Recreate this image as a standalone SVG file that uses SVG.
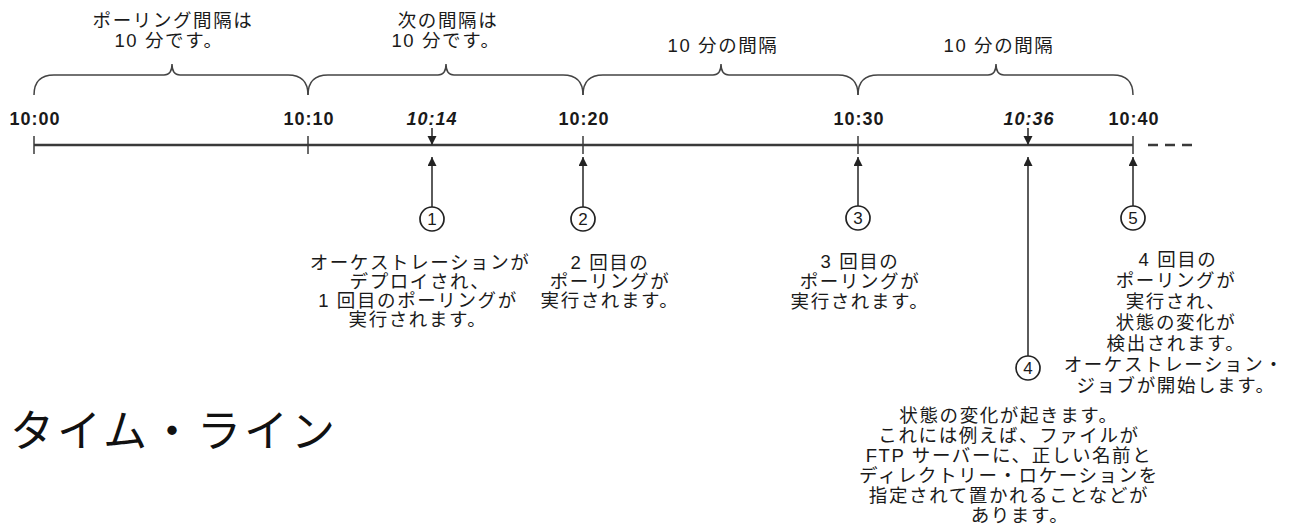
<svg xmlns="http://www.w3.org/2000/svg" width="1298" height="527" viewBox="0 0 1298 527">
<style>
.jp{font-family:"Liberation Sans","Noto Sans CJK JP",sans-serif;font-size:18.5px;letter-spacing:1.6px;fill:#1a1a1a;text-anchor:middle}
.tm{font-family:"Liberation Sans",Arial,sans-serif;font-size:18px;font-weight:bold;letter-spacing:1px;fill:#1a1a1a;text-anchor:middle}
.it{font-style:italic}
.brace{fill:none;stroke:#444;stroke-width:1.5}
.axis{stroke:#3a3a3a;stroke-width:2.5;fill:none}
.tick{stroke:#3a3a3a;stroke-width:1.5}
.conn{stroke:#333;stroke-width:1.6;fill:none}
.circ{fill:#fff;stroke:#222;stroke-width:1.7}
.num{font-family:"Liberation Sans",Arial,sans-serif;font-size:17px;fill:#1a1a1a;text-anchor:middle}
.title{font-family:"Noto Sans CJK JP",sans-serif;font-size:44px;letter-spacing:3px;fill:#111}
</style>
<defs>
<marker id="ah" markerUnits="userSpaceOnUse" markerWidth="9" markerHeight="10" refX="9" refY="4.5" orient="auto">
<path d="M0,0 L9,4.5 L0,9 z" fill="#222"/>
</marker>
</defs>

<g id="axis">
<line class="axis" x1="34" y1="145" x2="1133" y2="145"/>
<line class="tick" x1="34" y1="136" x2="34" y2="154"/>
<line class="tick" x1="308" y1="136" x2="308" y2="154"/>
<line class="tick" x1="583" y1="136" x2="583" y2="154"/>
<line class="tick" x1="858" y1="136" x2="858" y2="154"/>
<line class="tick" x1="1133" y1="136" x2="1133" y2="154"/>
<line class="axis" x1="1148" y1="145" x2="1192" y2="145" stroke-dasharray="10,7"/>
</g>

<g id="time-labels">
<text class="tm" x="35" y="125">10:00</text>
<text class="tm" x="309" y="125">10:10</text>
<text class="tm it" x="432" y="125">10:14</text>
<text class="tm" x="584" y="125">10:20</text>
<text class="tm" x="859" y="125">10:30</text>
<text class="tm it" x="1029" y="125">10:36</text>
<text class="tm" x="1134" y="125">10:40</text>
</g>

<g id="interval-1">
<path class="brace" d="M34,95 Q34,75 54,75 L164,75 Q172,75 172,64 Q172,75 180,75 L288,75 Q308,75 308,95"/>
<text class="jp" x="173" y="27">ポーリング間隔は</text>
<text class="jp" x="169" y="47">10 分です。</text>
</g>
<g id="interval-2">
<path class="brace" d="M308,95 Q308,75 328,75 L438,75 Q446,75 446,64 Q446,75 454,75 L563,75 Q583,75 583,95"/>
<text class="jp" x="448" y="27">次の間隔は</text>
<text class="jp" x="446" y="47">10 分です。</text>
</g>
<g id="interval-3">
<path class="brace" d="M583,95 Q583,75 603,75 L713,75 Q721,75 721,64 Q721,75 729,75 L838,75 Q858,75 858,95"/>
<text class="jp" x="723" y="52">10 分の間隔</text>
</g>
<g id="interval-4">
<path class="brace" d="M858,95 Q858,75 878,75 L988,75 Q996,75 996,64 Q996,75 1004,75 L1113,75 Q1133,75 1133,95"/>
<text class="jp" x="999" y="52">10 分の間隔</text>
</g>

<g id="connectors">
<line class="conn" x1="432" y1="128" x2="432" y2="145" marker-end="url(#ah)"/>
<line class="conn" x1="1028" y1="128" x2="1028" y2="145" marker-end="url(#ah)"/>
<line class="conn" x1="432" y1="207" x2="432" y2="157" marker-end="url(#ah)"/>
<line class="conn" x1="583" y1="207" x2="583" y2="157" marker-end="url(#ah)"/>
<line class="conn" x1="858" y1="206" x2="858" y2="157" marker-end="url(#ah)"/>
<line class="conn" x1="1028" y1="356" x2="1028" y2="157" marker-end="url(#ah)"/>
<line class="conn" x1="1133" y1="206" x2="1133" y2="157" marker-end="url(#ah)"/>
</g>

<g id="step-1">
<circle class="circ" cx="432" cy="219" r="12"/>
<text class="num" x="432" y="225">1</text>
<text class="jp" x="420" y="269">オーケストレーションが</text>
<text class="jp" x="420" y="288">デプロイされ、</text>
<text class="jp" x="418" y="307">1 回目のポーリングが</text>
<text class="jp" x="418" y="326">実行されます。</text>
</g>
<g id="step-2">
<circle class="circ" cx="583" cy="219" r="12"/>
<text class="num" x="583" y="225">2</text>
<text class="jp" x="610" y="269">2 回目の</text>
<text class="jp" x="610" y="288">ポーリングが</text>
<text class="jp" x="610" y="307">実行されます。</text>
</g>
<g id="step-3">
<circle class="circ" cx="858" cy="218" r="12"/>
<text class="num" x="858" y="224">3</text>
<text class="jp" x="860" y="268">3 回目の</text>
<text class="jp" x="860" y="288">ポーリングが</text>
<text class="jp" x="860" y="308">実行されます。</text>
</g>
<g id="step-4">
<circle class="circ" cx="1028" cy="368" r="12"/>
<text class="num" x="1028" y="374">4</text>
<text class="jp" x="1009" y="422">状態の変化が起きます。</text>
<text class="jp" x="1009" y="442">これには例えば、ファイルが</text>
<text class="jp" x="1009" y="462">FTP サーバーに、正しい名前と</text>
<text class="jp" x="1009" y="482">ディレクトリー・ロケーションを</text>
<text class="jp" x="1009" y="502">指定されて置かれることなどが</text>
<text class="jp" x="1020" y="522">あります。</text>
</g>
<g id="step-5">
<circle class="circ" cx="1133" cy="218" r="12"/>
<text class="num" x="1133" y="224">5</text>
<text class="jp" x="1178" y="266">4 回目の</text>
<text class="jp" x="1176" y="287">ポーリングが</text>
<text class="jp" x="1176" y="308">実行され、</text>
<text class="jp" x="1176" y="329">状態の変化が</text>
<text class="jp" x="1176" y="350">検出されます。</text>
<text class="jp" x="1174" y="371">オーケストレーション・</text>
<text class="jp" x="1176" y="392">ジョブが開始します。</text>
</g>

<g id="title">
<text class="title" x="10" y="447">タイム・ライン</text>
</g>
</svg>
